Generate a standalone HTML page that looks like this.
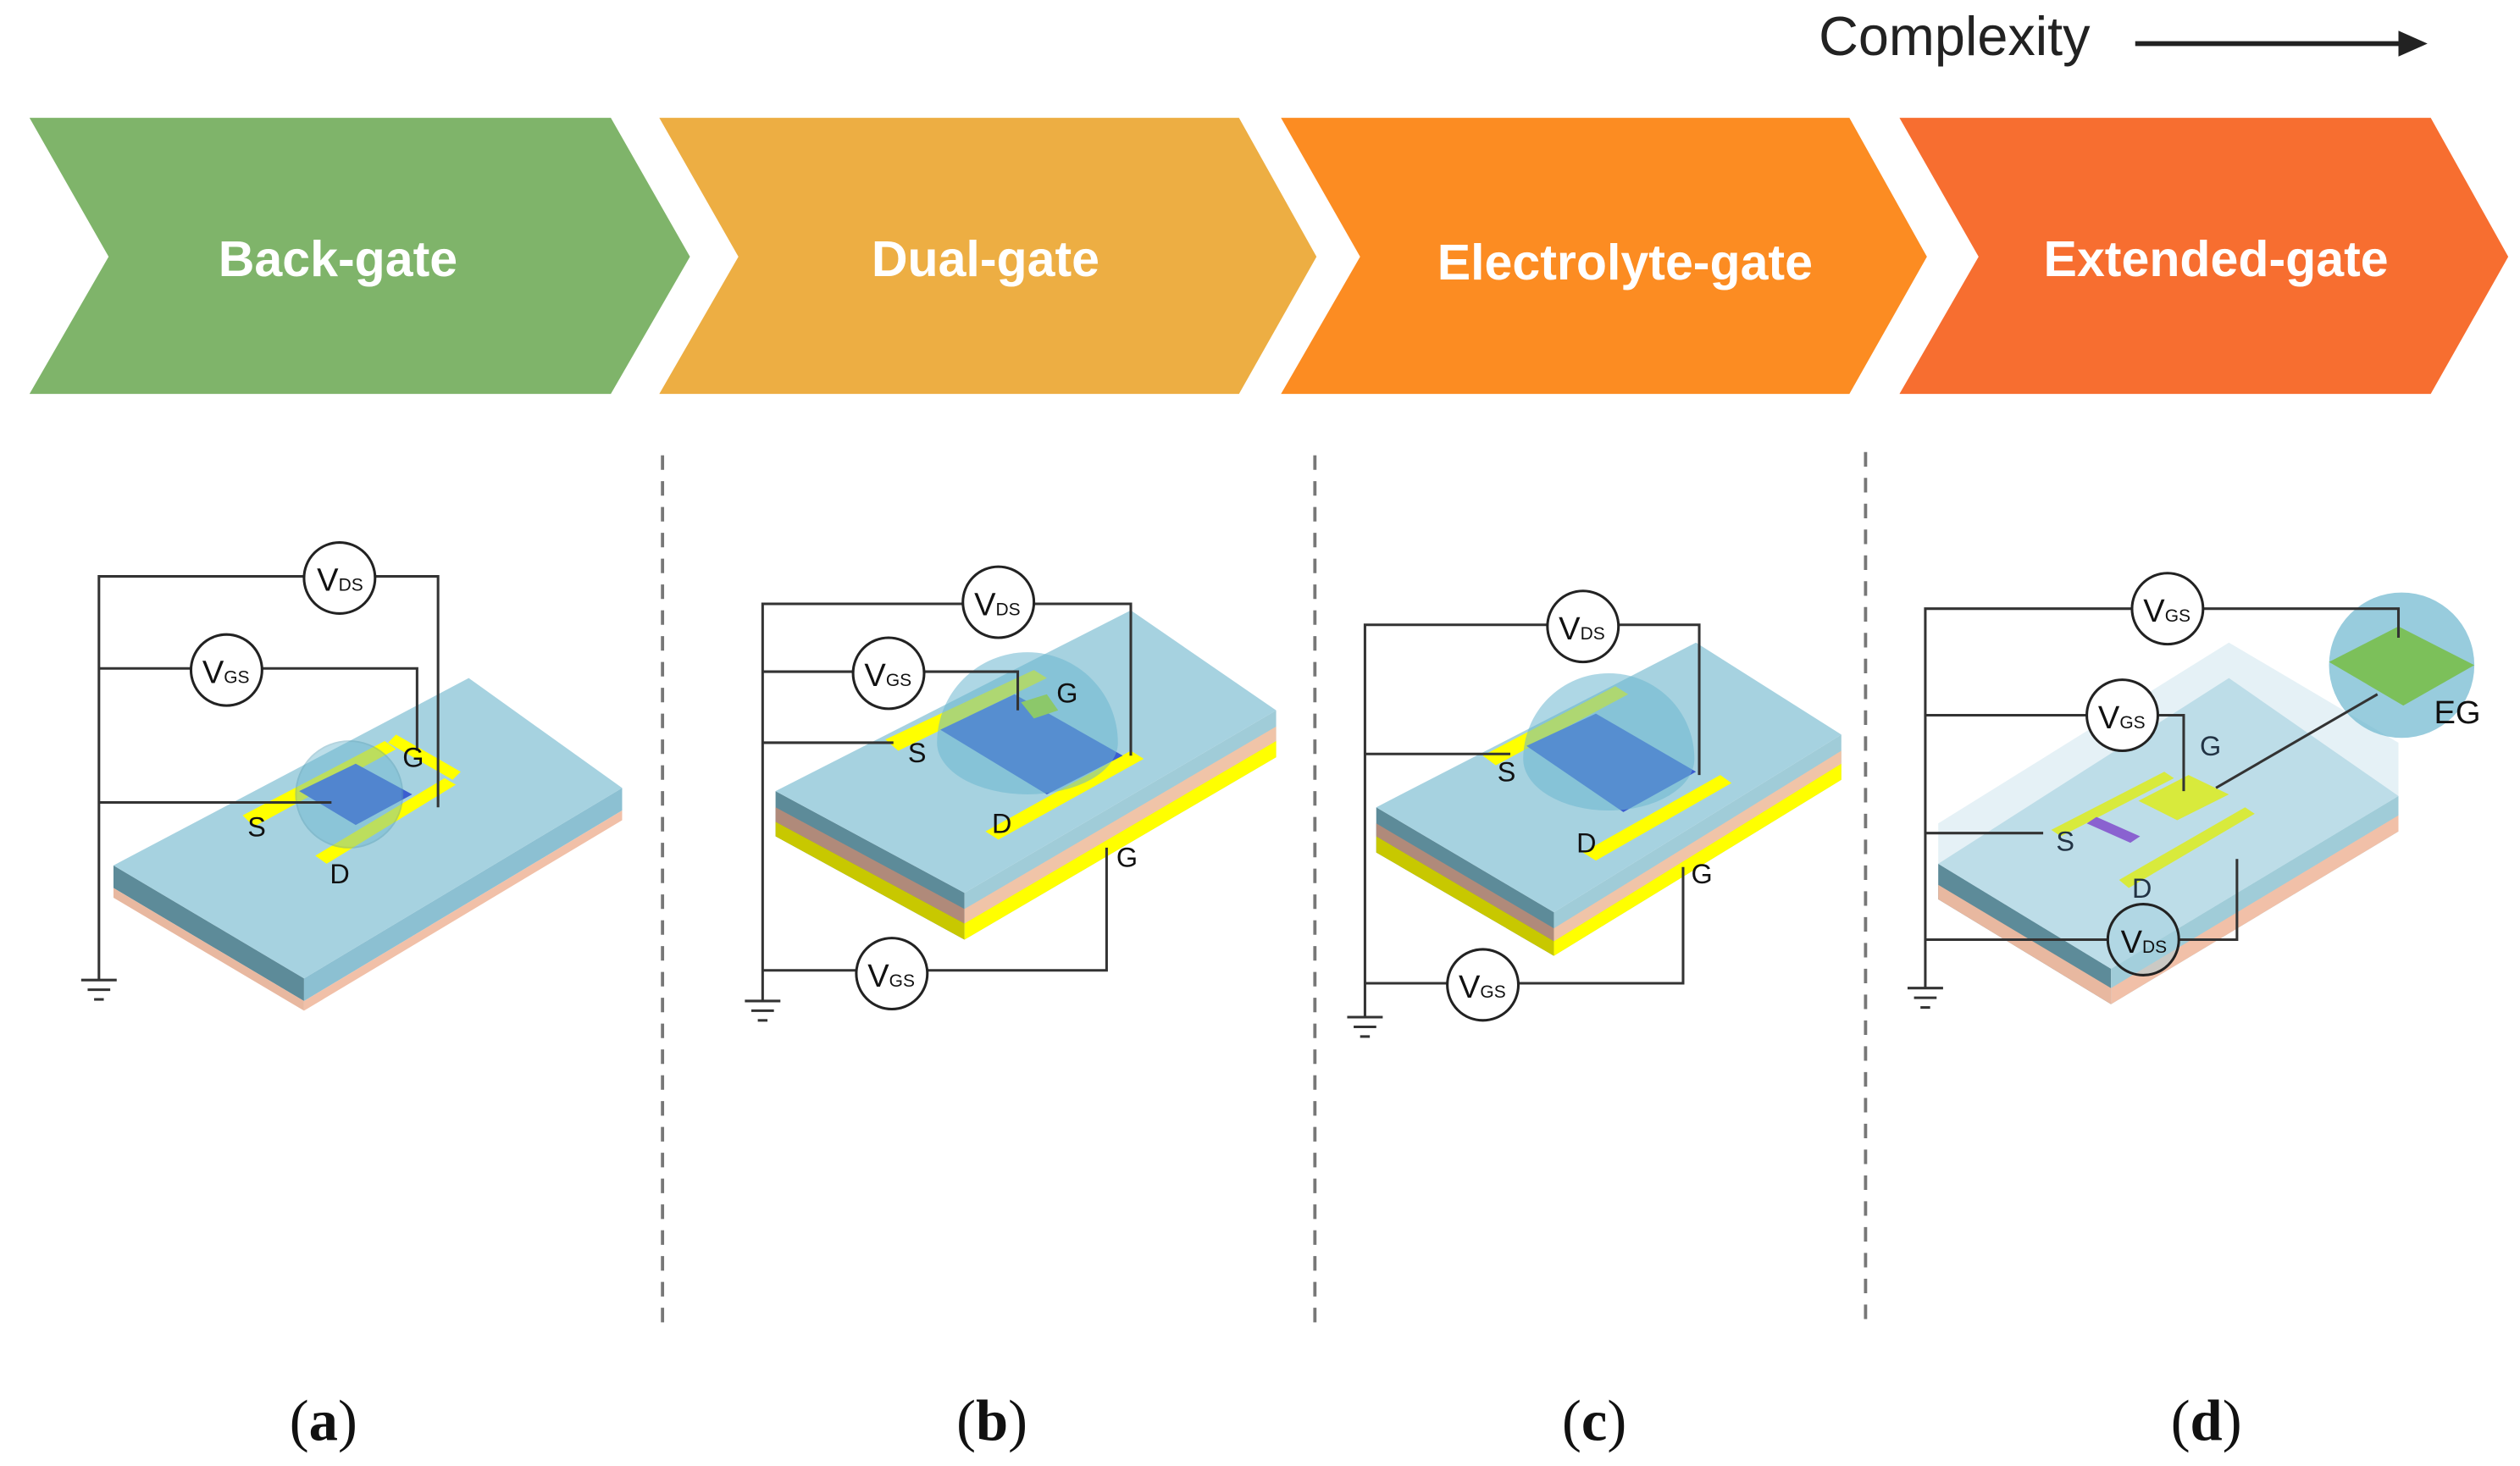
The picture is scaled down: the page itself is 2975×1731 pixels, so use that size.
<!DOCTYPE html>
<html><head><meta charset="utf-8"><style>
html,body{margin:0;padding:0;background:#fff;}
svg{display:block}
</style></head><body>
<svg width="2975" height="1731" viewBox="0 0 1560 908" xmlns="http://www.w3.org/2000/svg" font-family="Liberation Sans, sans-serif">
<rect width="1560" height="908" fill="#fff"/>
<!-- complexity -->
<text x="1126" y="34" font-size="34" fill="#222">Complexity</text>
<line x1="1322" y1="27" x2="1488" y2="27" stroke="#222" stroke-width="3"/>
<polygon points="1485,19 1503,27 1485,35" fill="#222"/>
<!-- chevrons -->
<polygon points="18,73 378,73 427,159 378,244 18,244 67,159" fill="#7fb46a"/>
<polygon points="408,73 767,73 815,159 767,244 408,244 457,159" fill="#edae43"/>
<polygon points="793,73 1145,73 1193,159 1145,244 793,244 842,159" fill="#fc8c22"/>
<polygon points="1176,73 1505,73 1553,159 1505,244 1176,244 1225,159" fill="#f76e30"/>
<g fill="#fff" font-weight="bold" font-size="31" text-anchor="middle">
<text x="209" y="171">Back-gate</text>
<text x="610" y="171">Dual-gate</text>
<text x="1006" y="173">Electrolyte-gate</text>
<text x="1372" y="171">Extended-gate</text>
</g>
<!-- dashed separators -->
<g stroke="#777" stroke-width="2" stroke-dasharray="9,7">
<line x1="410" y1="282" x2="410" y2="820"/>
<line x1="814" y1="282" x2="814" y2="820"/>
<line x1="1155" y1="280" x2="1155" y2="820"/>
</g>
<!-- labels -->
<g font-family="Liberation Serif, serif" font-size="36" text-anchor="middle" fill="#111">
<text x="200" y="892">(<tspan font-weight="bold">a</tspan>)</text>
<text x="614" y="892">(<tspan font-weight="bold">b</tspan>)</text>
<text x="987" y="892">(<tspan font-weight="bold">c</tspan>)</text>
<text x="1366" y="892">(<tspan font-weight="bold">d</tspan>)</text>
</g>

<!-- ===== Device A ===== -->
<polygon points="70,536 188,606 188,620 70,550" fill="#5d8b99"/>
<polygon points="70,550 188,620 188,626 70,556" fill="#e8b8a0"/>
<polygon points="188,606 385,488 385,502 188,620" fill="#8cc0d2"/>
<polygon points="188,620 385,502 385,508 188,626" fill="#f1c0a8"/>
<polygon points="70,536 290,420 385,488 188,606" fill="#a6d2e0"/>
<polygon points="150,505 238,459 245,464 157,512" fill="#ffff00"/>
<polygon points="245,455 285,478 280,483 240,460" fill="#ffff00"/>
<polygon points="195,530 275,482 282,486 202,535" fill="#ffff00"/>
<polygon points="185,490 220,473 255,492 220,511" fill="#3c5dd0"/>
<circle cx="216" cy="492" r="33" fill="#6cb7cf" opacity="0.45" stroke="#5aa0b8" stroke-width="1"/>
<g stroke="#333" stroke-width="1.6" fill="none">
<polyline points="61,607 61,357 188,357"/><polyline points="232,357 271,357 271,500"/>
<polyline points="61,414 118,414"/><polyline points="162,414 258,414 258,465"/>
<polyline points="61,497 205,497"/>
<line x1="50" y1="607" x2="72" y2="607"/><line x1="54" y1="613" x2="68" y2="613"/><line x1="58" y1="619" x2="64" y2="619"/>
</g>
<!-- ===== Device B ===== -->
<polygon points="480,490 597,553 597,582 480,518" fill="#5d8b99"/>
<polygon points="480,500 597,563 597,572 480,509" fill="#b08a7a"/>
<polygon points="480,509 597,572 597,582 480,518" fill="#c8c800"/>
<polygon points="597,553 790,440 790,469 597,582" fill="#a0ccd8"/>
<polygon points="597,563 790,450 790,459 597,572" fill="#f0c4a8"/>
<polygon points="597,572 790,459 790,469 597,582" fill="#ffff00"/>
<polygon points="480,490 700,378 790,440 597,553" fill="#a6d2e0"/>
<polygon points="548,458 640,415 648,420 556,465" fill="#ffff00"/>
<polygon points="610,515 700,465 708,470 618,520" fill="#ffff00"/>
<polygon points="582,452 628,430 695,468 648,492" fill="#3c5dd0"/>
<path d="M580,460 A56,56 0 0 1 692,460 A56,32 0 0 1 580,460 Z" fill="#6cb7cf" opacity="0.55"/>
<polygon points="632,435 648,430 655,440 640,445" fill="#8cc86a"/>
<g stroke="#333" stroke-width="1.6" fill="none">
<polyline points="472,620 472,374 596,374"/><polyline points="640,374 700,374 700,468"/>
<polyline points="472,416 528,416"/><polyline points="572,416 630,416 630,440"/>
<polyline points="472,460 553,460"/>
<polyline points="472,601 530,601"/><polyline points="574,601 685,601 685,525"/>
<line x1="461" y1="620" x2="483" y2="620"/><line x1="465" y1="626" x2="479" y2="626"/><line x1="469" y1="632" x2="475" y2="632"/>
</g>
<!-- ===== Device C ===== -->
<polygon points="852,500 962,565 962,592 852,528" fill="#5d8b99"/>
<polygon points="852,510 962,575 962,583 852,518" fill="#b08a7a"/>
<polygon points="852,518 962,583 962,592 852,528" fill="#c8c800"/>
<polygon points="962,565 1140,455 1140,483 962,592" fill="#a0ccd8"/>
<polygon points="962,575 1140,465 1140,473 962,583" fill="#f0c4a8"/>
<polygon points="962,583 1140,473 1140,483 962,592" fill="#ffff00"/>
<polygon points="852,500 1050,398 1140,455 962,565" fill="#a6d2e0"/>
<polygon points="918,468 1000,425 1008,430 926,474" fill="#ffff00"/>
<polygon points="980,528 1065,480 1072,485 988,533" fill="#ffff00"/>
<polygon points="945,462 988,442 1050,478 1005,503" fill="#3c5dd0"/>
<path d="M943,470 A53,53 0 0 1 1049,470 A53,32 0 0 1 943,470 Z" fill="#6cb7cf" opacity="0.55"/>
<g stroke="#333" stroke-width="1.6" fill="none">
<polyline points="845,630 845,387 958,387"/><polyline points="1002,387 1052,387 1052,480"/>
<polyline points="845,467 935,467"/>
<polyline points="845,609 896,609"/><polyline points="940,609 1042,609 1042,537"/>
<line x1="834" y1="630" x2="856" y2="630"/><line x1="838" y1="636" x2="852" y2="636"/><line x1="842" y1="642" x2="848" y2="642"/>
</g>
<!-- ===== Device D ===== -->
<polygon points="1200,535 1307,600 1307,622 1200,557" fill="#5d8b99"/>
<polygon points="1200,548 1307,612 1307,622 1200,557" fill="#e8b8a0"/>
<polygon points="1307,600 1485,493 1485,515 1307,622" fill="#a0ccd8"/>
<polygon points="1307,612 1485,505 1485,515 1307,622" fill="#f1c0a8"/>
<polygon points="1200,535 1380,420 1485,493 1307,600" fill="#a6d2e0"/>
<polygon points="1200,510 1380,398 1485,460 1485,493 1307,600 1200,535" fill="#cfe6ee" opacity="0.55"/>
<polygon points="1270,514 1340,478 1346,482 1276,518" fill="#d8ea3c"/>
<polygon points="1324,496 1355,480 1380,492 1348,508" fill="#d8ea3c"/>
<polygon points="1312,545 1390,500 1396,504 1318,550" fill="#d8ea3c"/>
<polygon points="1292,510 1298,506 1325,518 1319,522" fill="#8a62d0"/>
<circle cx="1487" cy="412" r="45" fill="#6cb7cf" opacity="0.7"/>
<polygon points="1442,410 1485,388 1532,412 1488,437" fill="#7cc05a"/>
<g stroke="#333" stroke-width="1.6" fill="none">
<polyline points="1192,612 1192,377 1320,377"/><polyline points="1364,377 1485,377 1485,395"/>
<polyline points="1192,443 1292,443"/><polyline points="1336,443 1352,443 1352,490"/>
<polyline points="1192,516 1265,516"/>
<polyline points="1192,582 1305,582"/><polyline points="1349,582 1385,582 1385,532"/>
<line x1="1472" y1="430" x2="1372" y2="488"/>
<line x1="1181" y1="612" x2="1203" y2="612"/><line x1="1185" y1="618" x2="1199" y2="618"/><line x1="1189" y1="624" x2="1195" y2="624"/>
</g>
<!-- meter circles -->
<g fill="#fff" stroke="#222" stroke-width="1.6">
<circle cx="210" cy="358" r="22"/><circle cx="140" cy="415" r="22"/>
<circle cx="618" cy="373" r="22"/><circle cx="550" cy="417" r="22"/><circle cx="552" cy="603" r="22"/>
<circle cx="980" cy="388" r="22"/><circle cx="918" cy="610" r="22"/>
<circle cx="1342" cy="377" r="22"/><circle cx="1314" cy="443" r="22"/>
</g>
<circle cx="1327" cy="582" r="22" fill="#a6d2e0" fill-opacity="0.5" stroke="#222" stroke-width="1.6"/>
<g font-size="20" fill="#111">
<text x="196" y="366">V<tspan font-size="11">DS</tspan></text>
<text x="125" y="423">V<tspan font-size="11">GS</tspan></text>
<text x="603" y="381">V<tspan font-size="11">DS</tspan></text>
<text x="535" y="425">V<tspan font-size="11">GS</tspan></text>
<text x="537" y="611">V<tspan font-size="11">GS</tspan></text>
<text x="965" y="396">V<tspan font-size="11">DS</tspan></text>
<text x="903" y="618">V<tspan font-size="11">GS</tspan></text>
<text x="1327" y="385">V<tspan font-size="11">GS</tspan></text>
<text x="1299" y="451">V<tspan font-size="11">GS</tspan></text>
<text x="1313" y="590">V<tspan font-size="11">DS</tspan></text>
</g>
<g font-size="17" fill="#111">
<text x="153" y="518">S</text><text x="249" y="475">G</text><text x="204" y="547">D</text>
<text x="562" y="472">S</text><text x="654" y="435">G</text><text x="614" y="516">D</text><text x="691" y="537">G</text>
<text x="927" y="484">S</text><text x="976" y="528">D</text><text x="1047" y="547">G</text>
<text x="1273" y="527" fill="#234">S</text><text x="1362" y="468" fill="#234">G</text><text x="1320" y="556" fill="#234">D</text>
<text x="1507" y="448" font-size="20">EG</text>
</g>
</svg>
</body></html>
